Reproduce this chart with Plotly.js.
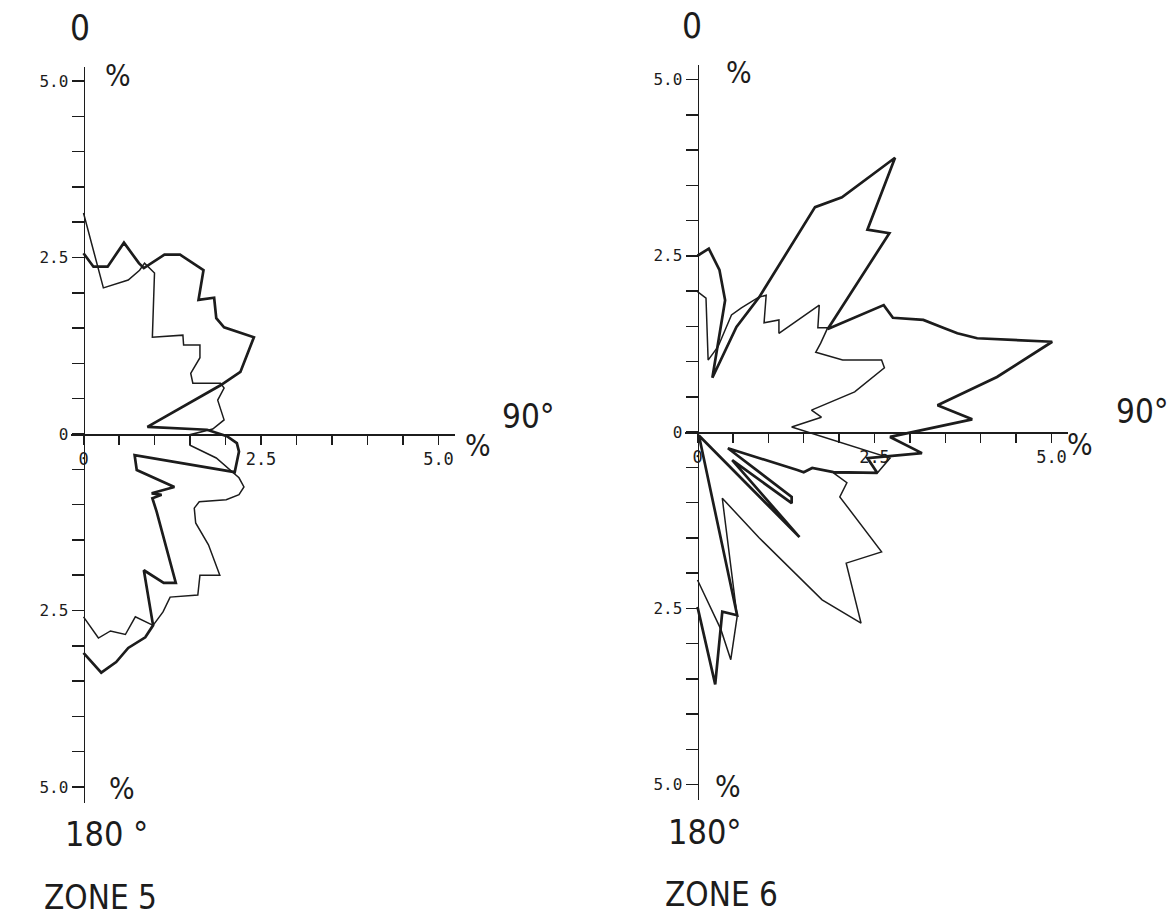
<!DOCTYPE html>
<html>
<head>
<meta charset="utf-8">
<script src="https://cdn.plot.ly/plotly-3.0.1.min.js"></script>
<style>html,body{margin:0;padding:0;background:#fff;}#chart{width:1176px;height:921px;}</style>
</head>
<body>
<div id="chart"></div>
<script>
// ---- Data (East / North components, in %) ----
const zone5ThickX = [0.00,0.14,0.34,0.57,0.78,0.85,1.14,1.36,1.69,1.62,1.84,1.87,1.98,2.40,2.21,1.93,0.90,1.74,2.02,2.16,2.19,2.13,0.72,0.75,1.28,0.96,1.10,0.97,1.03,1.30,1.13,0.85,0.98,0.87,0.63,0.46,0.25,0.00];
const zone5ThickY = [2.56,2.37,2.37,2.71,2.42,2.35,2.54,2.54,2.32,1.90,1.93,1.64,1.51,1.37,0.88,0.69,0.10,0.06,-0.03,-0.13,-0.25,-0.54,-0.30,-0.51,-0.75,-0.84,-0.86,-0.91,-1.10,-2.11,-2.11,-1.93,-2.71,-2.88,-3.03,-3.23,-3.38,-3.10];
const zone5ThinX = [0.00,0.28,0.63,0.79,0.86,1.00,0.97,1.40,1.41,1.64,1.64,1.51,1.54,1.93,1.98,1.89,1.98,1.82,1.50,1.50,1.87,2.06,2.19,2.26,2.19,2.01,1.63,1.56,1.58,1.76,1.92,1.64,1.61,1.22,1.12,0.98,0.73,0.59,0.38,0.21,0.00];
const zone5ThinY = [3.13,2.07,2.18,2.32,2.42,2.28,1.37,1.40,1.26,1.26,1.08,0.86,0.72,0.72,0.65,0.48,0.20,0.07,-0.01,-0.16,-0.34,-0.51,-0.62,-0.75,-0.86,-0.93,-0.96,-1.05,-1.26,-1.57,-2.00,-2.00,-2.28,-2.31,-2.52,-2.71,-2.59,-2.84,-2.79,-2.89,-2.59];

const zone6ThickX = [0.00,0.16,0.31,0.39,0.21,0.55,0.87,1.66,2.04,2.79,2.40,2.71,1.84,2.63,2.76,3.19,3.47,3.67,3.95,5.01,4.23,3.39,3.88,2.72,3.17,2.40,2.54,1.92,1.62,1.50,1.41,0.43,1.33,1.33,0.49,1.44,0.02,0.56,0.35,0.25,0.00];
const zone6ThickY = [2.50,2.60,2.30,1.87,0.77,1.49,1.91,3.19,3.33,3.89,2.87,2.82,1.46,1.80,1.62,1.59,1.48,1.40,1.33,1.28,0.78,0.38,0.18,-0.07,-0.30,-0.37,-0.58,-0.57,-0.51,-0.57,-0.54,-0.23,-0.92,-1.01,-0.40,-1.49,-0.05,-2.60,-2.55,-3.58,-2.48];
const zone6ThinX = [0.00,0.12,0.15,0.29,0.48,0.62,0.86,0.97,0.94,1.15,1.15,1.72,1.70,1.84,1.74,1.67,2.05,2.60,2.64,2.22,1.61,1.75,1.33,2.72,2.54,1.92,2.11,2.01,2.60,2.10,2.31,1.76,0.87,0.35,0.56,0.47,0.33,0.00];
const zone6ThinY = [1.99,1.90,1.02,1.21,1.66,1.76,1.91,1.94,1.55,1.59,1.40,1.80,1.48,1.48,1.26,1.13,1.02,1.02,0.91,0.57,0.31,0.21,0.07,-0.37,-0.58,-0.58,-0.72,-0.92,-1.70,-1.86,-2.71,-2.38,-1.50,-0.94,-2.62,-3.23,-2.80,-2.10];

const xTickVals = [0,0.5,1,1.5,2,2.5,3,3.5,4,4.5,5];
const xTickText = ['0','','','','','2.5','','','','','5.0'];
const yTickVals = [-5,-4.5,-4,-3.5,-3,-2.5,-2,-1.5,-1,-0.5,0,0.5,1,1.5,2,2.5,3,3.5,4,4.5,5];
const yTickText = ['5.0','','','','','2.5','','','','','0','','','','','2.5','','','','','5.0'];
const zoneTitles = ['ZONE 5','ZONE 6'];

// ---- Styling ----
const ink = '#1c1c1c';
const monoFont = {family:'"DejaVu Sans Mono", "Liberation Mono", monospace', size:16, color:ink};
const bigFont = {family:'"DejaVu Sans Condensed", "Liberation Sans Narrow", "Liberation Sans", sans-serif', size:33, color:ink};

function line(x, y, ax, w){
  return {type:'scatter', mode:'lines', x:x, y:y, xaxis:ax[0], yaxis:ax[1],
          line:{color:ink, width:w, shape:'linear'}, hoverinfo:'skip'};
}
const data = [
  line(zone5ThinX, zone5ThinY, ['x','y'], 1.5),
  line(zone5ThickX, zone5ThickY, ['x','y'], 2.7),
  line(zone6ThinX, zone6ThinY, ['x2','y2'], 1.5),
  line(zone6ThickX, zone6ThickY, ['x2','y2'], 2.7)
];

const W = 1176, H = 921;
function xAxis(originPx, scale, yOriginPx){
  const r0 = -0.17, r1 = 5.23;
  return {range:[r0,r1], domain:[(originPx + r0*scale)/W, (originPx + r1*scale)/W],
    anchor:'free', position:(H - yOriginPx)/H, showline:true, linecolor:ink, linewidth:1.6,
    ticks:'outside', ticklen:9, tickwidth:1.5, tickcolor:ink, tickmode:'array',
    tickvals:xTickVals, ticktext:xTickText, tickfont:Object.assign({}, monoFont, {size:17}),
    ticklabelstandoff:0, showgrid:false, zeroline:false, fixedrange:true};
}
function yAxis(yOriginPx, scale, xOriginPx){
  const r0 = -5.22, r1 = 5.2;
  return {range:[r0,r1], domain:[(H - (yOriginPx - r0*scale))/H, (H - (yOriginPx - r1*scale))/H],
    anchor:'free', position:xOriginPx/W, showline:true, linecolor:ink, linewidth:1.6,
    ticks:'outside', ticklen:12, tickwidth:1.5, tickcolor:ink, tickmode:'array',
    tickvals:yTickVals, ticktext:yTickText, tickfont:monoFont, ticklabelstandoff:0,
    showgrid:false, zeroline:false, fixedrange:true};
}

function ann(text, x, y, size){
  return {text:text, xref:'paper', yref:'paper', x:x/W, y:1 - y/H, xanchor:'center', yanchor:'middle',
          showarrow:false, font:Object.assign({}, bigFont, {size:size})};
}
const annotations = [
  ann('0', 80, 28, 35), ann('%', 118, 75, 30), ann('90°', 528, 416, 33), ann('%', 478, 445, 30),
  ann('%', 122, 788, 30), ann('180 °', 106, 834, 34), ann(zoneTitles[0], 100, 897, 33),
  ann('0', 692, 26, 35), ann('%', 739, 72, 30), ann('90°', 1142, 411, 33), ann('%', 1080, 444, 30),
  ann('%', 728, 786, 30), ann('180°', 705, 832, 34), ann(zoneTitles[1], 721, 894, 33)
];

const layout = {
  width:W, height:H, autosize:false, margin:{l:0,r:0,t:0,b:0,pad:0},
  paper_bgcolor:'#ffffff', plot_bgcolor:'rgba(0,0,0,0)', showlegend:false,
  xaxis: xAxis(83.5, 71, 434), yaxis: yAxis(434, 70.6, 83.5),
  xaxis2: xAxis(697.5, 70.8, 432), yaxis2: yAxis(432, 70.5, 697.5),
  annotations: annotations
};
Plotly.newPlot('chart', data, layout, {staticPlot:true, displayModeBar:false});
</script>
</body>
</html>
